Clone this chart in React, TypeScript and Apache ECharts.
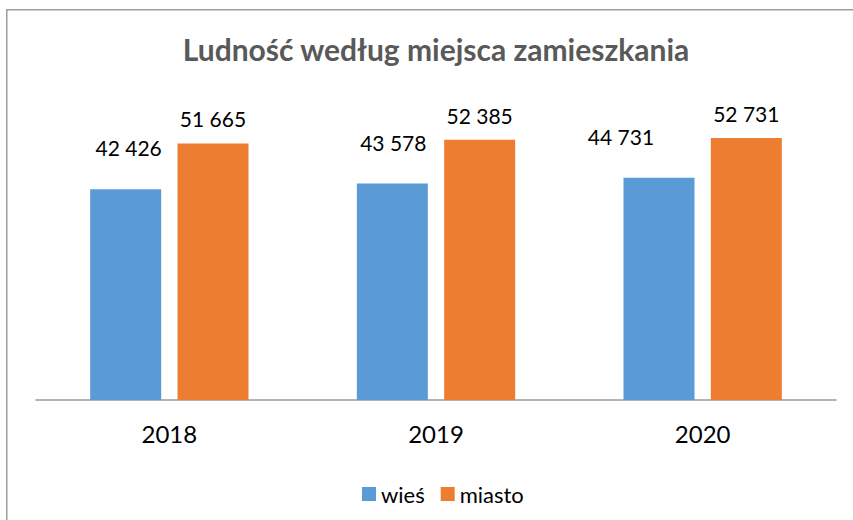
import React, { useEffect, useRef } from "react";
import * as echarts from "echarts";

const categories = ["2018", "2019", "2020"];
const wiesValues = [42426, 43578, 44731];
const miastoValues = [51665, 52385, 52731];
const seriesNames = ["wieś", "miasto"];
const titleText = "Ludność według miejsca zamieszkania";

const wiesLabelDx = [3, 1, -38];

const fmt = (v: number) => {
  const s = String(Math.round(v));
  return s.replace(/\B(?=(\d{3})+(?!\d))/g, " ");
};

export default function App() {
  const ref = useRef<HTMLDivElement>(null);
  useEffect(() => {
    if (!ref.current) return;
    const chart = echarts.init(ref.current, null, { renderer: "svg" });
    const font = "Lato, 'Open Sans', sans-serif";
    chart.setOption({
      animation: false,
      backgroundColor: "#ffffff",
      textStyle: { fontFamily: font },
      title: {
        text: titleText,
        left: 431,
        textAlign: "center",
        top: 29,
        textStyle: {
          fontFamily: font,
          fontSize: 30,
          fontWeight: "bold",
          color: "#595959",
        },
      },
      graphic: [
        {
          type: "rect",
          shape: { x: 6.75, y: 9.75, width: 1000, height: 1000 },
          style: { fill: "none", stroke: "#9c9c9c", lineWidth: 1.5 },
          silent: true,
        },
      ],
      legend: {
        left: 357,
        top: 478,
        itemWidth: 14,
        itemHeight: 14,
        itemGap: 16,
        icon: "rect",
        textStyle: { fontFamily: font, fontSize: 22, color: "#000000" },
        data: seriesNames,
      },
      grid: { left: 36, right: 17, top: 102, bottom: 120, containLabel: false },
      xAxis: {
        type: "category",
        data: categories,
        axisLine: { show: true, lineStyle: { color: "#9a9a9a", width: 1.5 } },
        axisTick: { show: false },
        axisLabel: {
          margin: 21,
          fontSize: 24,
          color: "#000000",
          fontFamily: font,
        },
      },
      yAxis: {
        type: "value",
        min: 0,
        max: 60000,
        show: false,
        splitLine: { show: false },
      },
      series: [
        {
          name: seriesNames[0],
          type: "bar",
          barWidth: 71,
          barGap: "23%",
          itemStyle: { color: "#5B9BD5" },
          data: wiesValues.map((v, i) => ({
            value: v,
            label: { offset: [wiesLabelDx[i], -26] },
          })),
          label: {
            show: true,
            position: "top",
            fontSize: 21,
            color: "#000000",
            fontFamily: font,
            formatter: (p: any) => fmt(p.value),
          },
        },
        {
          name: seriesNames[1],
          type: "bar",
          barWidth: 71,
          barGap: "23%",
          itemStyle: { color: "#ED7D31" },
          data: miastoValues,
          label: {
            show: true,
            position: "top",
            offset: [0, -9],
            fontSize: 21,
            color: "#000000",
            fontFamily: font,
            formatter: (p: any) => fmt(p.value),
          },
        },
      ],
    });
    return () => chart.dispose();
  }, []);
  return (
    <div
      ref={ref}
      style={{ position: "fixed", left: 0, top: 0, width: 853, height: 520 }}
    />
  );
}
